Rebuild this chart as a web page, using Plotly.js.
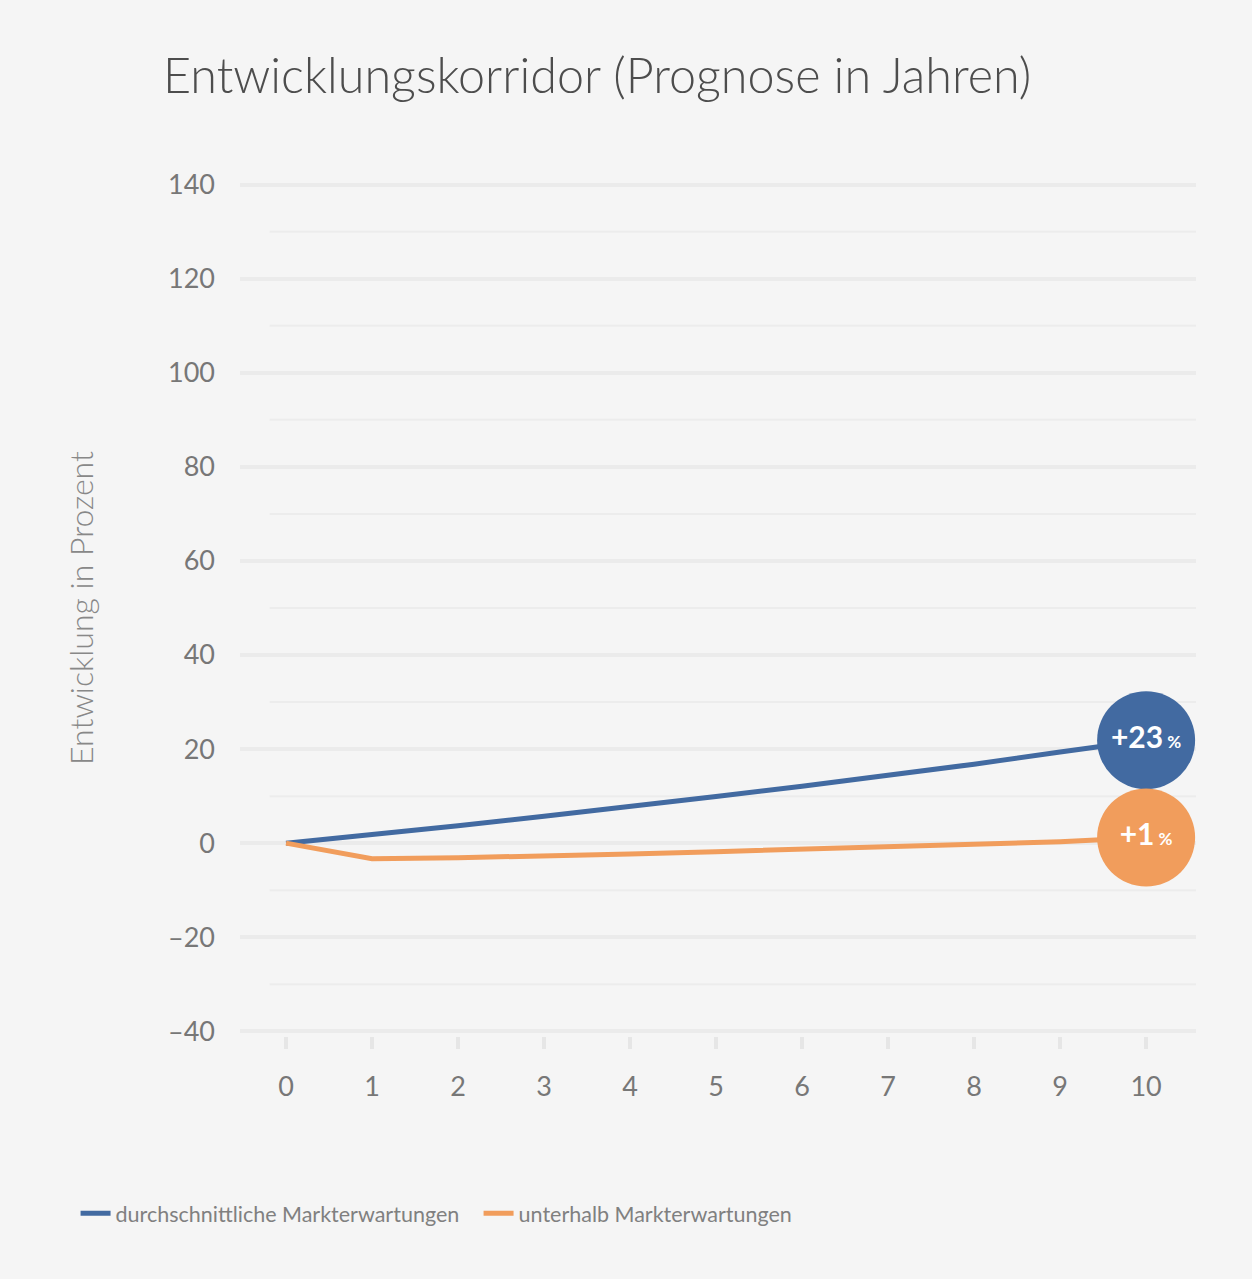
<!DOCTYPE html>
<html>
<head>
<meta charset="utf-8">
<script src="https://cdn.plot.ly/plotly-3.0.1.min.js"></script>
<style>html,body{margin:0;padding:0;background:#f5f5f5;}#chart{width:1252px;height:1279px;}</style>
</head>
<body>
<div id="chart"></div>
<script>
const years = [0, 1, 2, 3, 4, 5, 6, 7, 8, 9, 10];
const durchschnittlich = [0, 1.8, 3.7, 5.7, 7.7, 9.9, 12.1, 14.4, 16.8, 19.4, 21.9];
const unterhalb = [0, -3.3, -3.1, -2.8, -2.3, -1.8, -1.3, -0.8, -0.3, 0.3, 1.2];
const seriesNames = ["durchschnittliche Markterwartungen", "unterhalb Markterwartungen"];
const endLabels = ["+23", "+1"];
const yTicks = [-40, -20, 0, 20, 40, 60, 80, 100, 120, 140];
const yTickText = ["\u201340", "\u201320", "0", "20", "40", "60", "80", "100", "120", "140"];
const minorY = [-30, -10, 10, 30, 50, 70, 90, 110, 130];

const blue = "#426aa1";
const orange = "#f19d5c";
const last = years.length - 1;

const traces = [
  {x: years, y: durchschnittlich, mode: "lines", name: seriesNames[0],
   line: {color: blue, width: 5}, cliponaxis: false},
  {x: years, y: unterhalb, mode: "lines", name: seriesNames[1],
   line: {color: orange, width: 5}, cliponaxis: false},
  {x: [years[last]], y: [durchschnittlich[last]], mode: "markers+text", showlegend: false,
   marker: {size: 98, color: blue}, cliponaxis: false,
   text: ["<b>" + endLabels[0] + "</b><span style='font-size:17px'><b> %</b></span>"],
   textposition: "middle center", textfont: {color: "#ffffff", size: 30, family: "Lato"}},
  {x: [years[last]], y: [unterhalb[last]], mode: "markers+text", showlegend: false,
   marker: {size: 98, color: orange}, cliponaxis: false,
   text: ["<b>" + endLabels[1] + "</b><span style='font-size:17px'><b> %</b></span>"],
   textposition: "middle center", textfont: {color: "#ffffff", size: 30, family: "Lato"}}
];

const shapes = minorY.map(v => ({
  type: "line", xref: "x", yref: "y", x0: -0.19, x1: 10.58, y0: v, y1: v,
  line: {color: "#ececec", width: 2}, layer: "below"
}));

const layout = {
  width: 1252, height: 1279,
  paper_bgcolor: "#f5f5f5", plot_bgcolor: "#f5f5f5",
  font: {family: "Lato, 'Open Sans', sans-serif", color: "#777"},
  margin: {l: 240, r: 56, t: 180, b: 243},
  title: {text: "Entwicklungskorridor (Prognose in Jahren)", x: 163/1252, xanchor: "left",
          y: 1 - 76/1279, yanchor: "middle", font: {size: 48.5, color: "#4d4d4d", family: "Lato", weight: 300}},
  xaxis: {range: [-0.535, 10.58], tickvals: years, ticktext: years.map(String),
          showgrid: false, zeroline: false, showline: false,
          ticks: "outside", ticklen: 12, tickwidth: 4, tickcolor: "#e6e6e6",
          tickfont: {size: 27, color: "#777"}, ticklabelstandoff: 15, fixedrange: true},
  yaxis: {range: [-41, 141], tickvals: yTicks, ticktext: yTickText,
          showgrid: true, gridcolor: "#ebebeb", gridwidth: 4, zeroline: false, showline: false,
          ticks: "", tickfont: {size: 27, color: "#777"}, ticklabelstandoff: 24,
          title: {text: "Entwicklung in Prozent", font: {size: 32, color: "#888", weight: 300}, standoff: 64}},
  shapes: shapes,
  showlegend: true,
  legend: {orientation: "h", x: -0.172, xanchor: "left", y: -0.207, yanchor: "middle",
           font: {size: 21.5, color: "#808080"}, bgcolor: "rgba(0,0,0,0)",
           entrywidth: 358, entrywidthmode: "pixels", traceorder: "normal"}
};

Plotly.newPlot("chart", traces, layout, {displayModeBar: false, staticPlot: true});
</script>
</body>
</html>
